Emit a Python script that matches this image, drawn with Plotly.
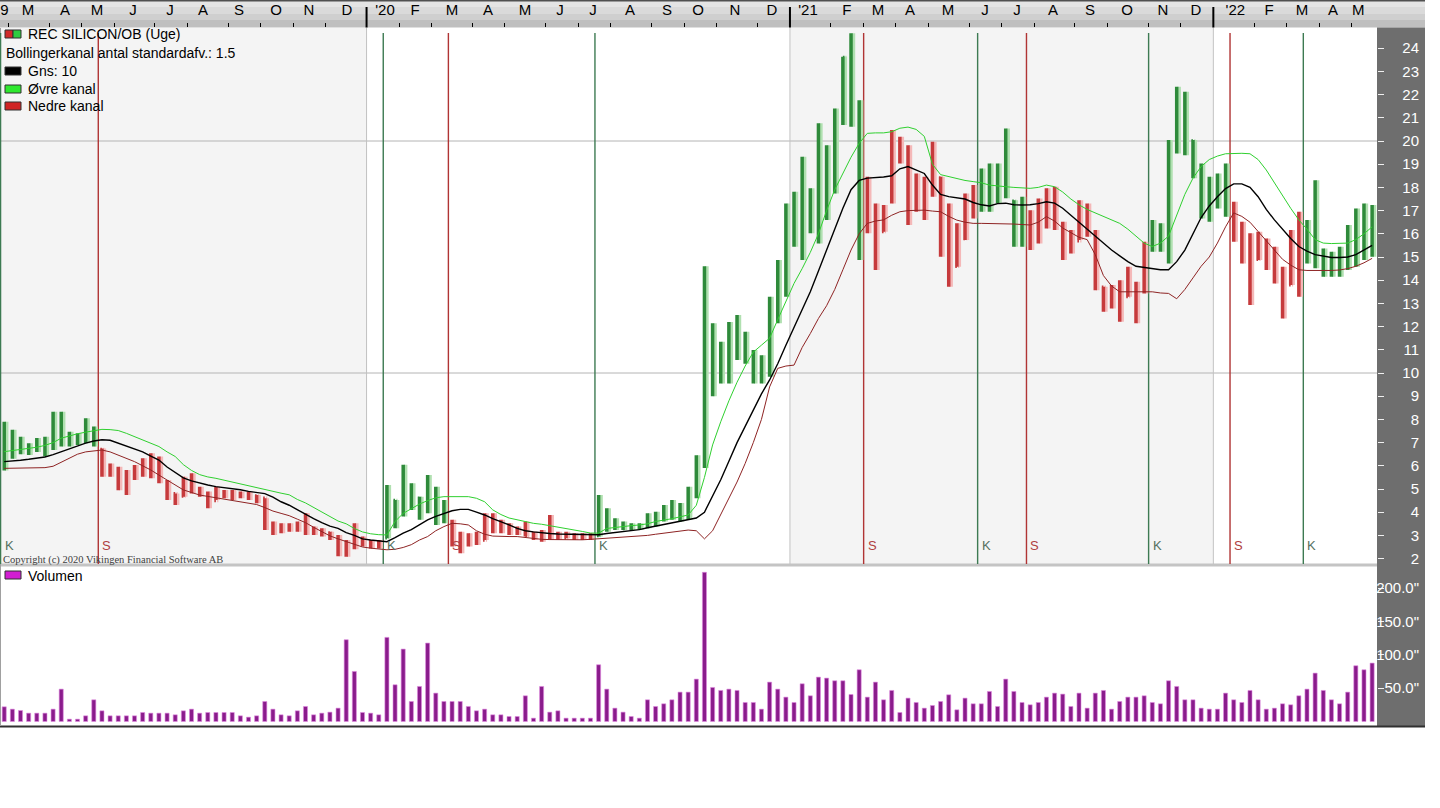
import plotly.graph_objects as go

# ---------------- data (weekly bars, Feb 2019 - May 2022) ----------------
weeks = list(range(169))

high = [
    7.9, 7.55, 7.25, 6.97, 7.2, 7.25, 8.33, 8.33, 7.47, 7.4,
    8.05, 7.69, 6.75, 6.1, 5.96, 5.82, 6.03, 6.32, 6.54, 6.4,
    5.39, 4.81, 5.53, 5.68, 5.1, 4.89, 5.1, 4.96, 4.96, 4.89,
    4.89, 4.74, 4.6, 3.6, 3.52, 3.52, 3.6, 3.95, 3.38, 3.31,
    3.16, 3.02, 2.8, 3.52, 2.95, 2.8, 2.8, 5.17, 4.53, 6.04,
    5.25, 4.67, 5.6, 5.1, 4.53, 3.67, 3.16, 3.09, 3.16, 3.95,
    3.95, 3.67, 3.52, 3.38, 3.6, 3.16, 3.23, 3.88, 3.16, 3.16,
    3.09, 3.09, 3.09, 4.74, 4.17, 3.74, 3.6, 3.52, 3.52, 3.95,
    4.02, 4.31, 4.53, 4.4, 5.1, 6.45, 14.6, 12.14, 11.35, 12.2,
    12.5, 11.78, 10.99, 10.77, 13.29, 14.87, 17.31, 17.81, 19.32, 17.96,
    20.76, 19.82, 21.4, 23.63, 24.64, 21.76, 18.46, 17.31, 17.24, 20.47,
    20.18, 19.82, 18.6, 18.46, 19.97, 18.46, 17.31, 16.45, 17.74, 18.1,
    18.82, 19.03, 19.03, 20.54, 17.45, 17.6, 17.02, 17.52, 17.96, 18.03,
    16.52, 16.16, 17.45, 17.31, 16.16, 13.72, 13.79, 14.0, 14.58, 13.93,
    15.66, 16.59, 16.45, 20.04, 22.34, 22.12, 20.04, 19.03, 18.46, 18.6,
    19.03, 17.38, 16.52, 16.02, 16.09, 15.8, 15.44, 14.58, 16.16, 16.95,
    16.59, 18.31, 15.37, 15.23, 15.44, 16.38, 17.09, 17.31, 17.24,
]

low = [
    5.8, 6.3, 6.5, 6.47, 6.6, 6.4, 6.68, 6.83, 6.83, 6.9,
    6.97, 6.83, 5.53, 5.53, 4.95, 4.74, 5.39, 5.53, 5.46, 5.25,
    4.53, 4.31, 4.67, 4.81, 4.67, 4.17, 4.53, 4.6, 4.53, 4.6,
    4.53, 4.39, 3.23, 3.02, 3.09, 3.16, 3.16, 3.02, 3.02, 2.95,
    2.8, 2.1, 2.08, 2.4, 2.52, 2.44, 2.44, 2.88, 3.31, 3.81,
    4.1, 3.67, 3.95, 3.45, 3.52, 2.52, 2.23, 2.52, 2.59, 2.8,
    3.09, 3.09, 3.02, 3.02, 2.95, 2.8, 2.73, 2.8, 2.8, 2.88,
    2.8, 2.8, 2.8, 2.95, 3.16, 3.23, 3.23, 3.23, 3.23, 3.31,
    3.38, 3.6, 3.67, 3.6, 3.67, 4.6, 5.9, 9.0, 9.55, 9.55,
    10.56, 10.4, 9.55, 9.55, 9.84, 12.14, 13.29, 15.44, 14.87, 16.02,
    15.58, 16.59, 17.74, 20.69, 20.61, 14.87, 16.02, 14.44, 16.09, 17.31,
    19.03, 16.38, 16.95, 16.59, 17.6, 15.01, 13.72, 14.58, 15.73, 16.66,
    16.95, 16.95, 17.31, 17.53, 15.44, 15.44, 15.3, 15.58, 16.23, 16.16,
    14.87, 15.15, 15.73, 15.87, 13.57, 12.64, 12.78, 12.21, 13.29, 12.14,
    13.43, 15.23, 15.23, 14.72, 19.46, 19.39, 18.39, 16.66, 16.52, 17.09,
    16.73, 15.66, 14.72, 12.93, 14.87, 14.44, 13.86, 12.35, 13.79, 13.29,
    14.72, 14.51, 14.15, 14.15, 14.15, 14.44, 14.58, 14.87, 15.01,
]

open_ = [
    6.3, 6.9, 7.0, 6.8, 6.7, 6.9, 6.8, 7.9, 7.3, 7.1,
    7.3, 7.6, 6.7, 6.0, 5.8, 5.3, 5.6, 5.9, 6.0, 6.3,
    5.3, 4.8, 4.7, 5.3, 5.0, 4.8, 4.5, 4.8, 4.8, 4.7,
    4.7, 4.7, 4.6, 3.4, 3.4, 3.3, 3.3, 3.4, 3.2, 3.2,
    3.1, 2.9, 2.3, 2.6, 2.7, 2.7, 2.6, 2.9, 4.5, 3.9,
    4.8, 4.6, 4.1, 4.9, 4.0, 3.6, 2.8, 2.6, 2.8, 2.8,
    3.6, 3.4, 3.3, 3.2, 3.1, 3.0, 2.9, 2.9, 3.0, 2.9,
    3.0, 2.9, 2.9, 3.0, 4.0, 3.4, 3.4, 3.3, 3.4, 3.4,
    3.8, 3.7, 4.0, 4.2, 3.9, 4.9, 6.2, 11.8, 10.6, 10.0,
    11.4, 11.1, 10.7, 10.0, 10.2, 12.6, 14.2, 16.0, 17.1, 16.4,
    17.4, 18.0, 18.9, 20.8, 23.6, 21.6, 18.0, 17.0, 16.1, 17.4,
    19.2, 19.7, 17.6, 17.6, 17.7, 18.4, 15.9, 14.6, 15.8, 17.1,
    17.4, 18.3, 18.1, 18.0, 17.4, 16.0, 16.1, 16.3, 16.9, 16.9,
    16.4, 15.4, 15.7, 16.6, 16.0, 13.7, 13.1, 13.2, 13.3, 13.6,
    13.5, 15.5, 15.7, 15.8, 19.8, 21.3, 20.0, 18.8, 17.2, 17.8,
    17.6, 17.3, 16.3, 15.7, 14.9, 15.6, 15.2, 14.4, 13.8, 14.0,
    14.8, 15.4, 15.2, 14.8, 14.7, 15.1, 15.9, 16.6, 16.4,
]

close = [
    6.9, 7.0, 6.8, 6.7, 6.9, 6.8, 7.9, 7.3, 7.1, 7.3,
    7.6, 7.3, 6.0, 5.8, 5.3, 5.6, 5.9, 6.0, 6.3, 5.5,
    4.8, 4.6, 5.3, 5.0, 4.8, 4.5, 4.8, 4.8, 4.7, 4.7,
    4.7, 4.6, 3.4, 3.4, 3.3, 3.3, 3.4, 3.2, 3.2, 3.1,
    2.9, 2.3, 2.6, 2.7, 2.7, 2.6, 2.6, 4.6, 3.9, 4.8,
    4.7, 4.1, 4.9, 4.0, 3.8, 2.8, 2.6, 2.8, 2.8, 3.6,
    3.4, 3.3, 3.2, 3.1, 3.0, 2.9, 2.9, 3.0, 2.9, 3.0,
    2.9, 2.9, 2.9, 4.0, 3.4, 3.4, 3.3, 3.4, 3.4, 3.8,
    3.7, 4.0, 4.2, 3.9, 4.9, 6.2, 11.8, 10.6, 10.0, 11.4,
    11.1, 10.7, 10.0, 10.2, 12.6, 14.2, 16.0, 17.1, 16.4, 17.4,
    18.0, 18.9, 20.1, 23.6, 21.6, 18.0, 17.0, 16.1, 16.7, 19.2,
    19.7, 17.6, 17.6, 17.1, 18.4, 15.9, 14.6, 15.2, 17.1, 17.4,
    18.3, 18.1, 18.0, 18.8, 16.0, 16.1, 16.3, 16.9, 16.9, 17.0,
    15.4, 15.7, 16.6, 16.4, 13.7, 13.1, 13.2, 13.0, 13.6, 13.3,
    15.5, 15.7, 15.8, 19.8, 21.3, 20.5, 18.8, 17.2, 17.8, 17.6,
    17.3, 16.3, 15.7, 14.5, 15.6, 15.2, 14.4, 13.6, 14.0, 14.3,
    15.4, 15.6, 14.8, 14.7, 15.1, 15.9, 16.6, 16.4, 16.3,
]

volume = [
    22, 18.5, 16.5, 12.5, 12.5, 12.5, 18.5, 48.5, 3.5, 3.5,
    8.5, 32.5, 16, 8.5, 8.5, 8.5, 8.5, 13.5, 12.5, 12.5,
    12.5, 10, 16, 18.5, 12.5, 13.5, 13.5, 13.5, 13.5, 8.5,
    6.5, 8.5, 30, 18.5, 10, 8.5, 16, 22.5, 10, 12.5,
    14, 20, 122.5, 75, 13.5, 12.5, 10, 126, 55, 108.5,
    30, 52.5, 117.5, 42.5, 30, 30, 30, 22.5, 16, 18.5,
    10, 10, 7.5, 7.5, 38.5, 5, 52.5, 14, 16, 5,
    5, 5, 5, 85, 48.5, 20, 14, 7.5, 5, 32.5,
    22.5, 26.5, 32.5, 44, 44, 63.5, 223.5, 51, 46.5, 48.5,
    46.5, 28.5, 28.5, 18.5, 59, 48.5, 36.5, 28.5, 56.5, 38.5,
    66.5, 65, 61, 61, 40.5, 77.5, 36.5, 59, 32.5, 46.5,
    13.5, 35, 28.5, 20, 24, 30, 40, 17.5, 35, 26.5,
    26.5, 45, 22.5, 63.5, 45, 28.5, 25, 28.5, 36.5, 42.5,
    41, 22.5, 42.5, 20, 42.5, 46.5, 18.5, 30, 36.5, 36.5,
    38.5, 28.5, 26.5, 61, 52.5, 32.5, 32.5, 20, 18.5, 18.5,
    42.5, 32.5, 28.5, 46.5, 32.5, 18.5, 20, 26.5, 25, 38.5,
    48.5, 72.5, 46.5, 32.5, 26.5, 44, 83.5, 77.5, 87.5,
]

avg10 = [
    6.18, 6.2, 6.24, 6.28, 6.32, 6.38, 6.48, 6.6, 6.74, 6.87,
    6.98, 7.07, 7.12, 7.1, 6.98, 6.86, 6.75, 6.6, 6.42, 6.25,
    5.95, 5.7, 5.48, 5.35, 5.25, 5.17, 5.1, 5.06, 5.03, 4.97,
    4.9, 4.85, 4.8, 4.65, 4.45, 4.3, 4.1, 3.9, 3.72, 3.55,
    3.4, 3.3, 3.12, 3.0, 2.85, 2.8, 2.75, 2.73, 2.9, 3.1,
    3.25, 3.45, 3.67, 3.82, 3.95, 4.06, 4.12, 4.12, 4.0, 3.88,
    3.72, 3.6, 3.45, 3.3, 3.2, 3.15, 3.1, 3.08, 3.06, 3.05,
    3.04, 3.03, 3.02, 3.03, 3.08, 3.12, 3.15, 3.18, 3.25, 3.33,
    3.4, 3.45, 3.52, 3.6, 3.67, 3.75, 4.0, 4.7, 5.4, 6.2,
    7.0, 7.7, 8.4, 9.1, 9.7, 10.4, 11.2, 11.95, 12.7, 13.5,
    14.4, 15.3, 16.2, 17.1, 17.9, 18.3, 18.4, 18.42, 18.45, 18.5,
    18.8, 18.9, 18.75, 18.6, 18.1, 17.7, 17.6, 17.55, 17.5, 17.35,
    17.25, 17.2, 17.3, 17.32, 17.25, 17.24, 17.25, 17.3, 17.38, 17.32,
    17.1, 16.8, 16.5, 16.2, 15.9, 15.6, 15.3, 15.05, 14.8, 14.6,
    14.55, 14.5, 14.45, 14.45, 14.8, 15.3, 16.0, 16.7, 17.2, 17.6,
    17.95, 18.15, 18.15, 18.0, 17.6, 17.05, 16.6, 16.2, 15.8, 15.45,
    15.25, 15.1, 15.03, 14.98, 14.98, 15.0, 15.1, 15.3, 15.5,
]

upper_band = [
    6.61, 6.65, 6.7, 6.75, 6.8, 6.88, 7.0, 7.19, 7.3, 7.38,
    7.45, 7.52, 7.57, 7.56, 7.52, 7.4, 7.26, 7.11, 6.98, 6.83,
    6.6, 6.4, 6.05, 5.8, 5.62, 5.52, 5.46, 5.38, 5.27, 5.2,
    5.12, 5.05, 4.97, 4.9, 4.82, 4.75, 4.55, 4.4, 4.2, 4.0,
    3.8, 3.62, 3.5, 3.3, 3.15, 3.07, 3.03, 3.02, 3.6, 3.95,
    4.15, 4.35, 4.5, 4.62, 4.67, 4.68, 4.68, 4.67, 4.6, 4.45,
    4.1, 3.9, 3.75, 3.67, 3.6, 3.52, 3.48, 3.42, 3.38, 3.3,
    3.23, 3.17, 3.1, 3.1, 3.3, 3.35, 3.38, 3.42, 3.45, 3.5,
    3.6, 3.65, 3.72, 3.8, 3.88, 4.3, 5.5, 6.9, 7.9, 8.8,
    9.6, 10.3, 10.9, 11.2, 11.5, 12.3, 13.1, 13.86, 14.5, 15.2,
    16.0, 17.0, 17.9, 18.6, 19.3, 19.9, 20.33, 20.35, 20.35, 20.4,
    20.55, 20.6, 20.5, 20.2, 19.0, 18.55, 18.46, 18.4, 18.3, 18.25,
    18.2, 18.1, 18.05, 18.03, 18.0, 17.97, 17.96, 18.0, 18.1, 18.03,
    17.8, 17.5, 17.25, 17.05, 16.9, 16.75, 16.6, 16.45, 16.2, 15.9,
    15.6, 15.45, 15.6, 15.9, 16.8, 17.7, 18.4, 18.9, 19.2, 19.35,
    19.45, 19.47, 19.47, 19.45, 19.2, 18.75, 18.2, 17.6, 17.1, 16.6,
    16.2, 15.75, 15.6, 15.58, 15.58, 15.6, 15.75, 16.0, 16.3,
]

lower_band = [
    5.89, 5.89, 5.89, 5.89, 5.9, 5.92, 5.98, 6.15, 6.32, 6.5,
    6.6, 6.65, 6.68, 6.6, 6.47, 6.32, 6.18, 6.0, 5.82, 5.6,
    5.39, 5.17, 4.96, 4.85, 4.74, 4.68, 4.62, 4.58, 4.53, 4.47,
    4.4, 4.33, 4.2, 4.05, 3.95, 3.85, 3.7, 3.55, 3.35, 3.15,
    2.98, 2.85, 2.73, 2.6, 2.5, 2.45, 2.42, 2.38, 2.4, 2.48,
    2.6, 2.8, 2.95, 3.2, 3.38, 3.52, 3.5, 3.45, 3.2, 3.05,
    2.97, 2.95, 2.95, 2.95, 2.9, 2.86, 2.83, 2.82, 2.81, 2.8,
    2.8, 2.81, 2.83, 2.85, 2.88, 2.9, 2.92, 2.94, 2.95, 3.0,
    3.05, 3.1, 3.15, 3.2, 3.23, 3.2, 2.85, 3.2, 3.9, 4.6,
    5.3, 6.1, 7.0, 8.0, 9.4, 10.2, 10.3, 10.34, 11.1, 11.7,
    12.35, 12.9, 13.6, 14.45, 15.3, 16.0, 16.45, 16.55, 16.6, 16.8,
    16.95, 17.0, 17.02, 17.02, 16.98, 16.95, 16.75, 16.59, 16.5, 16.45,
    16.45, 16.45, 16.45, 16.45, 16.42, 16.4, 16.38, 16.5, 16.74, 16.55,
    16.25, 16.05, 15.85, 15.75, 15.1, 14.2, 13.75, 13.5, 13.5, 13.5,
    13.5, 13.5, 13.45, 13.43, 13.2, 13.6, 14.1, 14.6, 15.0, 15.6,
    16.3, 16.9, 16.75, 16.5, 16.1, 15.7, 15.3, 14.9, 14.65, 14.45,
    14.42, 14.41, 14.41, 14.42, 14.44, 14.5, 14.6, 14.75, 14.94,
]

buy_signals = [0, 47, 73, 120, 141, 160]     # "K"
sell_signals = [12, 55, 106, 126, 151]       # "S"
year_bounds = [44.5, 96.5, 148.5]

month_tick_pos = [0.5, 5.5, 9.5, 13.5, 18.5, 22.5, 27.5, 31.5, 35.5, 39.5, 44.5, 48.5,
                  52.5, 57.5, 61.5, 66.5, 70.5, 74.5, 79.5, 83.5, 87.5, 92.5, 96.5,
                  101.5, 105.5, 109.5, 113.5, 118.5, 122.5, 126.5, 131.5, 135.5,
                  140.5, 144.5, 148.5, 153.5, 157.5, 161.5, 165.5]
month_label_pos = [0.03, 2.92, 7.46, 11.39, 15.82, 20.36, 24.41, 28.84, 33.38, 37.43,
                   42.1, 46.77, 50.45, 55.0, 59.42, 63.96, 68.26, 72.31, 76.86, 81.4,
                   85.21, 89.75, 94.3, 98.72, 103.5, 107.3, 111.25, 115.9, 120.46,
                   124.39, 128.8, 133.35, 137.9, 142.3, 146.37, 151.2, 155.34, 159.4,
                   163.2, 166.3]
month_labels = ["9", "M", "A", "M", "J", "J", "A", "S", "O", "N", "D", "'20",
                "F", "M", "A", "M", "J", "J", "A", "S", "O", "N", "D", "'21",
                "F", "M", "A", "M", "J", "J", "A", "S", "O", "N", "D", "'22",
                "F", "M", "A", "M"]

price_ticks = list(range(2, 25))
volume_ticks = [50, 100, 150, 200]
volume_ticktext = ['50.0"', '100.0"', '150.0"', '200.0"']

# ---------------- styling ----------------
W, H = 1440, 808
GREEN = "#2e8a3a"
GREEN_SH = "#b0e0b0"
RED = "#c63a3c"
RED_SH = "#f4b8b8"
FONT = "Liberation Sans"

def py(p):
    return 1 - p / H

def pxp(p):
    return p / W

X_RANGE = [-0.52, 168.6]
PRICE_DOM = [py(564), py(28)]
VOL_DOM = [py(722), py(567)]
PRICE_RANGE = [1.767, 24.871]
VOL_RANGE = [-0.75, 231.46]
# wider label axis for the price scale, same value-to-pixel mapping
PRICE_LABEL_DOM = [py(584), py(24)]
PRICE_LABEL_RANGE = [1.767 - 20 / 23.2, 24.871 + 4 / 23.2]
XR = 1377 / W
LABEL_X = 1422 / W

# regime of each bar: green after K, red after S
signals = sorted([(i, "K") for i in buy_signals] + [(i, "S") for i in sell_signals])
regime = []
cur = "K"
for w in weeks:
    for i, s in signals:
        if i == w:
            cur = s
    regime.append(cur)

def subset(arr, r):
    return [arr[w] for w in weeks if regime[w] == r]

fig = go.Figure()

for r, col, shcol in (("K", GREEN, GREEN_SH), ("S", RED, RED_SH)):
    xs = [w for w in weeks if regime[w] == r]
    fig.add_trace(go.Ohlc(
        x=[w + 0.3 for w in xs], open=subset(open_, r), high=subset(high, r),
        low=subset(low, r), close=subset(close, r),
        increasing=dict(line=dict(color=shcol, width=3.5)),
        decreasing=dict(line=dict(color=shcol, width=3.5)),
        tickwidth=0.15, xaxis="x", yaxis="y", hoverinfo="skip", showlegend=False))
for r, col in (("K", GREEN), ("S", RED)):
    xs = [w for w in weeks if regime[w] == r]
    fig.add_trace(go.Ohlc(
        x=xs, open=subset(open_, r), high=subset(high, r),
        low=subset(low, r), close=subset(close, r),
        increasing=dict(line=dict(color=col, width=3.5)),
        decreasing=dict(line=dict(color=col, width=3.5)),
        tickwidth=0.2, xaxis="x", yaxis="y", hoverinfo="skip", showlegend=False))

fig.add_trace(go.Scatter(x=weeks, y=upper_band, mode="lines",
                         line=dict(color="#2fd02f", width=1), xaxis="x", yaxis="y",
                         hoverinfo="skip", showlegend=False))
fig.add_trace(go.Scatter(x=weeks, y=lower_band, mode="lines",
                         line=dict(color="#8e2323", width=1), xaxis="x", yaxis="y",
                         hoverinfo="skip", showlegend=False))
fig.add_trace(go.Scatter(x=weeks, y=avg10, mode="lines",
                         line=dict(color="#000000", width=1.4), xaxis="x", yaxis="y",
                         hoverinfo="skip", showlegend=False))

fig.add_trace(go.Bar(x=weeks, y=volume, width=0.5,
                     marker=dict(color="#8a1c8c", line=dict(color="#e08ae0", width=0.6)),
                     xaxis="x2", yaxis="y2", hoverinfo="skip", showlegend=False))

# invisible carriers so that the label-only axes are drawn
fig.add_trace(go.Scatter(x=[weeks[0]], y=[avg10[0]], mode="markers", marker=dict(opacity=0),
                         xaxis="x3", yaxis="y", hoverinfo="skip", showlegend=False))
fig.add_trace(go.Scatter(x=[weeks[0]], y=[avg10[0]], mode="markers", marker=dict(opacity=0),
                         xaxis="x", yaxis="y3", hoverinfo="skip", showlegend=False))
fig.add_trace(go.Scatter(x=[weeks[0]], y=[volume[0]], mode="markers", marker=dict(opacity=0),
                         xaxis="x2", yaxis="y4", hoverinfo="skip", showlegend=False))

# ---------------- shapes ----------------
shapes = []
# header strip (gradient made of bands)
for (a, b, c) in ((0, 7, "#e4e4e4"), (7, 14, "#dadada"), (14, 20, "#cfcfcf"), (20, 27.5, "#bfbfbf")):
    shapes.append(dict(type="rect", xref="paper", yref="paper", x0=0, x1=pxp(1425),
                       y0=py(b), y1=py(a), fillcolor=c, line=dict(width=0), layer="below"))
shapes.append(dict(type="line", xref="paper", yref="paper", x0=0, x1=pxp(1425),
                   y0=py(0.8), y1=py(0.8), line=dict(color="#505050", width=1.6), layer="below"))
# shaded years (2019, 2021)
for (a, b) in ((X_RANGE[0], year_bounds[0]), (year_bounds[1], year_bounds[2])):
    shapes.append(dict(type="rect", xref="x", yref="paper", x0=a, x1=b,
                       y0=PRICE_DOM[0], y1=PRICE_DOM[1], fillcolor="#f4f4f4",
                       line=dict(width=0), layer="below"))
# gray axis column
shapes.append(dict(type="rect", xref="paper", yref="paper", x0=XR, x1=pxp(1425),
                   y0=py(727), y1=py(27.5), fillcolor="#6e6e6e", line=dict(width=0),
                   layer="below"))
# panel separator and bottom border
shapes.append(dict(type="rect", xref="paper", yref="paper", x0=0, x1=XR,
                   y0=py(566.5), y1=py(563.5), fillcolor="#c4c4c4", line=dict(width=0),
                   layer="below"))
shapes.append(dict(type="line", xref="paper", yref="paper", x0=0, x1=pxp(1425),
                   y0=py(726.5), y1=py(726.5), line=dict(color="#303030", width=2),
                   layer="below"))
shapes.append(dict(type="line", xref="paper", yref="paper", x0=pxp(0.5), x1=pxp(0.5),
                   y0=py(726), y1=py(28), line=dict(color="#a0a0a0", width=1),
                   layer="below"))
# horizontal grid at 10 and 20
for v in (10, 20):
    shapes.append(dict(type="line", xref="paper", yref="y", x0=0, x1=XR, y0=v, y1=v,
                       line=dict(color="#b4b4b4", width=1), layer="below"))
# year lines in price panel + long year ticks in header
for b in year_bounds:
    shapes.append(dict(type="line", xref="x", yref="paper", x0=b, x1=b,
                       y0=PRICE_DOM[0], y1=PRICE_DOM[1],
                       line=dict(color="#c2c2c2", width=1), layer="below"))
    shapes.append(dict(type="line", xref="x", yref="paper", x0=b, x1=b,
                       y0=py(27.5), y1=py(7),
                       line=dict(color="#000000", width=2)))
# signal lines
for s in buy_signals:
    shapes.append(dict(type="line", xref="x", yref="paper", x0=s - 0.45, x1=s - 0.45,
                       y0=PRICE_DOM[0], y1=py(33),
                       line=dict(color="#3d7a52", width=1.4), layer="below"))
for s in sell_signals:
    shapes.append(dict(type="line", xref="x", yref="paper", x0=s - 0.45, x1=s - 0.45,
                       y0=PRICE_DOM[0], y1=py(33),
                       line=dict(color="#b03434", width=1.4), layer="below"))
# legend icons
def icon(y, color, x0=5, x1=21):
    shapes.append(dict(type="rect", xref="paper", yref="paper", x0=pxp(x0), x1=pxp(x1),
                       y0=py(y + 4), y1=py(y - 4), fillcolor=color,
                       line=dict(color="#303030", width=1)))
icon(34, "#d02a2a", 5, 13)
icon(34, "#2ecc40", 13, 21)
icon(71, "#000000")
icon(89, "#2ee82e")
icon(106, "#d02424")
icon(575, "#d21ed2")

# ---------------- annotations ----------------
ann = []
def text(x, y, t, size=14, color="#000000", family=FONT, xanchor="left"):
    ann.append(dict(xref="paper", yref="paper", x=pxp(x), y=py(y), text=t,
                    showarrow=False, xanchor=xanchor, yanchor="middle",
                    font=dict(family=family, size=size, color=color)))
text(26, 34, "REC SILICON/OB (Uge)")
text(4, 53, "Bollingerkanal antal standardafv.: 1.5")
text(26, 71, "Gns: 10")
text(26, 89, "Øvre kanal")
text(26, 106, "Nedre kanal")
text(26, 576, "Volumen")
text(1, 559.5, "Copyright (c) 2020 Vikingen Financial Software AB", size=10.5,
     color="#404040", family="Liberation Serif")
for s in buy_signals:
    ann.append(dict(xref="x", yref="paper", x=s - 0.45, y=py(545.5), text="K",
                    showarrow=False, xanchor="left", yanchor="middle", xshift=2,
                    font=dict(family=FONT, size=13, color="#557060")))
for s in sell_signals:
    ann.append(dict(xref="x", yref="paper", x=s - 0.45, y=py(545.5), text="S",
                    showarrow=False, xanchor="left", yanchor="middle", xshift=2,
                    font=dict(family=FONT, size=13, color="#b04040")))

fig.update_layout(
    width=W, height=H, margin=dict(l=0, r=0, t=0, b=0),
    paper_bgcolor="#ffffff", plot_bgcolor="rgba(0,0,0,0)",
    hovermode=False, showlegend=False,
    shapes=shapes, annotations=ann,
    xaxis=dict(domain=[0, XR], range=X_RANGE, anchor="y", side="top",
               tickvals=month_tick_pos, ticktext=[""] * len(month_tick_pos),
               ticks="outside", ticklen=4, tickcolor="#000000", tickwidth=1,
               showgrid=False, zeroline=False, showline=False,
               rangeslider=dict(visible=False)),
    xaxis3=dict(overlaying="x", range=X_RANGE, anchor="y", side="top",
                tickvals=month_label_pos, ticktext=month_labels, ticks="",
                ticklabelstandoff=9,
                tickfont=dict(family=FONT, size=15, color="#000000"),
                showgrid=False, zeroline=False, showline=False),
    yaxis=dict(domain=PRICE_DOM, range=PRICE_RANGE, anchor="x", side="right",
               tickvals=price_ticks, showticklabels=False, ticks="outside",
               ticklen=6, tickcolor="#f0f0f0", tickwidth=1,
               showgrid=False, zeroline=False, showline=False),
    yaxis3=dict(domain=PRICE_LABEL_DOM, range=PRICE_LABEL_RANGE, anchor="free",
                position=LABEL_X, side="right", ticklabelposition="inside",
                tickvals=price_ticks, ticks="",
                tickfont=dict(family=FONT, size=15, color="#ffffff"),
                showgrid=False, zeroline=False, showline=False),
    xaxis2=dict(domain=[0, XR], range=X_RANGE, anchor="y2", showticklabels=False,
                ticks="", showgrid=False, zeroline=False, showline=False),
    yaxis2=dict(domain=VOL_DOM, range=VOL_RANGE, anchor="x2", side="right",
                tickvals=volume_ticks, showticklabels=False, ticks="outside",
                ticklen=6, tickcolor="#f0f0f0", tickwidth=1,
                showgrid=False, zeroline=False, showline=False),
    yaxis4=dict(overlaying="y2", range=VOL_RANGE, anchor="free", position=LABEL_X,
                side="right", ticklabelposition="inside", tickvals=volume_ticks,
                ticktext=volume_ticktext, ticks="",
                tickfont=dict(family=FONT, size=15, color="#ffffff"),
                showgrid=False, zeroline=False, showline=False),
)

fig.write_html("out.html", config={"displayModeBar": False},
               post_script="document.body.style.margin='0';document.body.style.padding='0';")
